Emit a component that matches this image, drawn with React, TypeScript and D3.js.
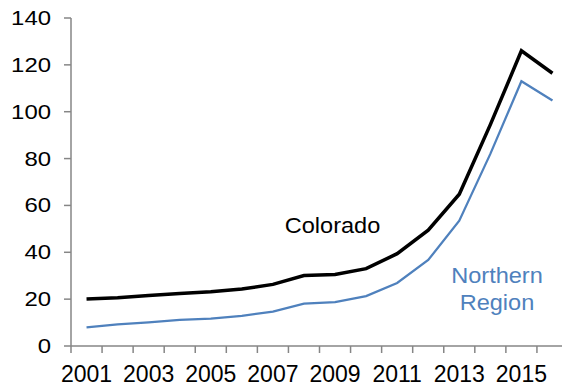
import React from "react";
import * as d3 from "d3";

const years = [2001, 2002, 2003, 2004, 2005, 2006, 2007, 2008, 2009, 2010, 2011, 2012, 2013, 2014, 2015, 2016];
const colorado = [20.1, 20.6, 21.6, 22.4, 23.2, 24.3, 26.3, 30.1, 30.5, 33.0, 39.4, 49.4, 64.8, 94.5, 126.0, 116.4];
const northern = [8.0, 9.2, 10.1, 11.1, 11.7, 12.9, 14.7, 18.1, 18.7, 21.3, 26.9, 36.7, 53.5, 82.0, 113.0, 104.8];
const yTicks = [0, 20, 40, 60, 80, 100, 120, 140];
const xLabelYears = [2001, 2003, 2005, 2007, 2009, 2011, 2013, 2015];

const W = 562;
const H = 387;
const FONT = "'Liberation Sans', Arial, sans-serif";
const AXIS = "#868686";
const BLUE = "#4F81BD";

export default function App() {
  const x = d3.scaleBand<number>().domain(years).range([71, 568]).paddingInner(0).paddingOuter(0);
  const y = d3.scaleLinear().domain([0, 140]).range([346, 18]);
  const cx = (yr: number) => (x(yr) as number) + x.bandwidth() / 2;
  const line = d3
    .line<number>()
    .x((_, i) => cx(years[i]))
    .y((d) => y(d));
  const boundaries = d3.range(years.length + 1).map((i) => 71 + i * x.bandwidth());

  return (
    <svg
      width={W}
      height={H}
      style={{ position: "absolute", left: 0, top: 0, background: "#fff" }}
      fontFamily={FONT}
    >
      {/* axes */}
      <line x1={71} y1={18} x2={71} y2={346} stroke={AXIS} strokeWidth={1.5} />
      <line x1={71} y1={346} x2={W} y2={346} stroke={AXIS} strokeWidth={1.5} />
      {yTicks.map((t) => (
        <g key={t}>
          <line x1={64} x2={71} y1={y(t)} y2={y(t)} stroke={AXIS} strokeWidth={1.5} />
          <text
            transform={`translate(51,${y(t)}) scale(1.14,1)`}
            textAnchor="end"
            dominantBaseline="central"
            fontSize={21}
            fill="#000"
          >
            {t}
          </text>
        </g>
      ))}
      {boundaries.map((b, i) => (
        <line key={i} x1={b} x2={b} y1={346} y2={353} stroke={AXIS} strokeWidth={1.5} />
      ))}
      {xLabelYears.map((yr) => (
        <text key={yr} x={cx(yr)} y={382} textAnchor="middle" fontSize={23} fill="#000">
          {yr}
        </text>
      ))}
      {/* lines */}
      <path d={line(northern) || ""} fill="none" stroke={BLUE} strokeWidth={2.25} strokeLinejoin="miter" />
      <path d={line(colorado) || ""} fill="none" stroke="#000" strokeWidth={3.5} strokeLinejoin="miter" />
      {/* labels */}
      <text transform="translate(332.5,232.7) scale(1.07,1)" textAnchor="middle" fontSize={22} fill="#000">
        Colorado
      </text>
      <text transform="translate(497,283.3) scale(1.07,1)" textAnchor="middle" fontSize={22} fill={BLUE}>
        Northern
      </text>
      <text transform="translate(497,310) scale(1.07,1)" textAnchor="middle" fontSize={22} fill={BLUE}>
        Region
      </text>
    </svg>
  );
}
